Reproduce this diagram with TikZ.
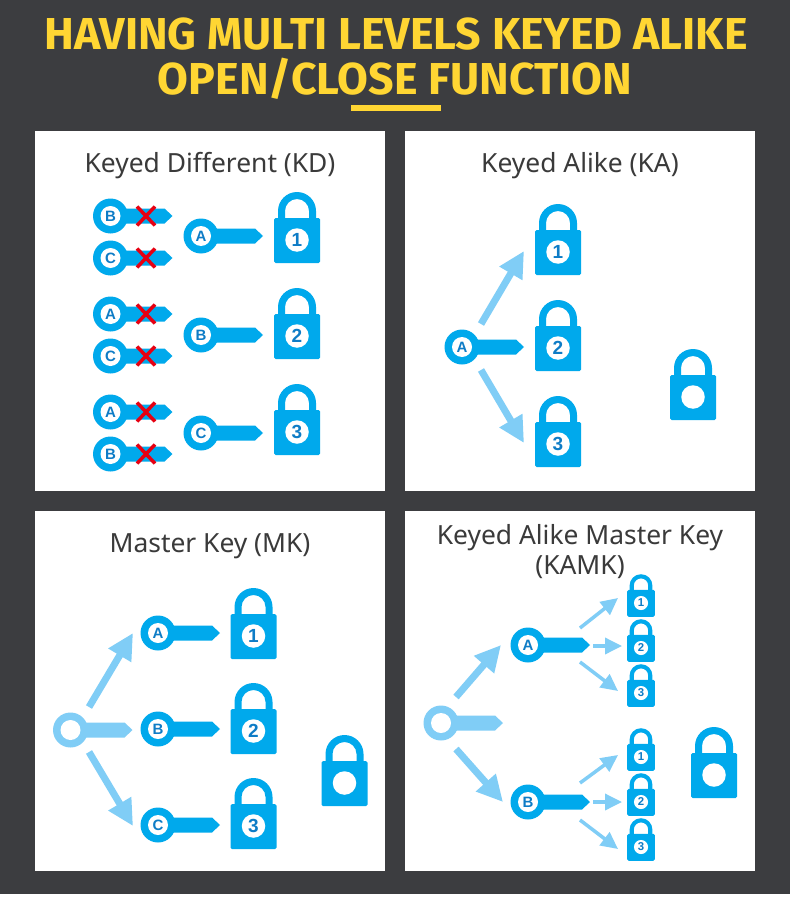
\documentclass[tikz,border=0pt]{standalone}
\usepackage{fontspec}
\setmainfont{Noto Sans}
\newfontfamily\titlefont{Fira Sans}
\newfontfamily\markfont{Liberation Sans}
\usetikzlibrary{arrows.meta}
\definecolor{pagedark}{HTML}{3C3D40}
\definecolor{titleyellow}{HTML}{FFD633}
\definecolor{keyblue}{HTML}{00A9EC}
\definecolor{keylight}{HTML}{80CDF6}
\definecolor{markblue}{HTML}{0E7CC6}
\definecolor{crossred}{HTML}{E60012}
\definecolor{headgray}{HTML}{3A3A3A}
\tikzset{
  panel/.style={fill=white},
  headline/.style={font=\titlefont\bfseries\fontsize{44.7}{54}\selectfont,text=titleyellow,anchor=base},
  paneltitle/.style={font=\fontsize{26.4}{30}\selectfont,text=headgray,anchor=base,align=center},
  holemark/.style={circle,fill=white,inner sep=0pt,minimum size=#1,transform shape,text=markblue},
  bigarrow/.style={keylight,line width=7pt,-{Triangle[length=26pt,width=25pt]}},
  smallarrow/.style={keylight,line width=3.5pt,-{Triangle[length=17pt,width=16pt]}},
  crossout/.style={crossred,line width=3.5pt},
  pics/keyicon/.style 2 args={code={
    \fill[#1] (0,0) circle (17.5);
    \fill[#1] (10,-7.5) -- (54,-7.5) -- (62,0) -- (54,7.5) -- (10,7.5) -- cycle;
    \node[holemark=20,font=\markfont\bfseries\fontsize{15}{15}\selectfont] (-hole) at (0,0) {#2};
  }},
  pics/lockicon/.style={code={
    \fill[keyblue,rounded corners=1.5] (-23,-22) rectangle (23,23);
    \fill[keyblue] (-19,-21) -- (-19,-29) arc (180:360:19) -- (19,-21) -- (12,-21) -- (12,-29) arc (360:180:12) -- (-12,-21) -- cycle;
    \node[holemark=23.5,font=\markfont\bfseries\fontsize{19}{19}\selectfont] (-hole) at (0,0) {#1};
  }},
  pics/crossmark/.style={code={
    \draw[crossout] (-9,-9.5) -- (9,9.5) (-9,9.5) -- (9,-9.5);
  }},
}
\begin{document}
\begin{tikzpicture}[x=1pt,y=-1pt]
\useasboundingbox (0,0) rectangle (790,904);
\fill[pagedark] (0,0) rectangle (790,894);
% title
\node[headline] (line1) at (396,50) {HAVING MULTI LEVELS KEYED ALIKE};
\node[headline] (line2) at (395,95) {OPEN/CLOSE FUNCTION};
\fill[titleyellow] (351,105) rectangle (441,111);
% panels
\fill[panel] (35,131) rectangle (385,491);
\fill[panel] (405,131) rectangle (755,491);
\fill[panel] (35,511) rectangle (385,871);
\fill[panel] (405,511) rectangle (755,871);
\node[paneltitle] (kdtitle) at (210,172) {Keyed Different (KD)};
\node[paneltitle] (katitle) at (580,172) {Keyed Alike (KA)};
\node[paneltitle] (mktitle) at (210,552) {Master Key (MK)};
\node[paneltitle] (kamktitle) at (580,544) {Keyed Alike Master Key};
\node[paneltitle] (kamktitleb) at (580,574) {(KAMK)};
% keyed different
\foreach \ky/\txt/\ly/\num/\aa/\ab/\bb/\ba in {236/A/240/1/216/258/B/C,335/B/336/2/314/356/A/C,433/C/432/3/412/454/A/B}{
  \pic (kdkey\num) at (201,\ky) {keyicon={keyblue}{\txt}};
  \pic (kdlock\num) at (297,\ly) {lockicon=\num};
  \pic (kdx\num) at (110.5,\aa) {keyicon={keyblue}{\bb}};
  \pic (kdy\num) at (110.5,\ab) {keyicon={keyblue}{\ba}};
  \pic (kdcrossx\num) at (146,\aa) {crossmark};
  \pic (kdcrossy\num) at (146,\ab) {crossmark};
}
% keyed alike
\pic (kakey) at (462,347) {keyicon={keyblue}{A}};
\foreach \num/\ly in {1/252,2/348,3/444}
  \pic (kalock\num) at (558,\ly) {lockicon=\num};
\pic (kaplain) at (693,397) {lockicon={}};
\coordinate (kaup) at (481,324);
\coordinate (kauptip) at (524,251);
\coordinate (kadown) at (481,370);
\coordinate (kadowntip) at (524,443);
\draw[bigarrow] (kaup) -- (kauptip);
\draw[bigarrow] (kadown) -- (kadowntip);
% master key
\pic (mkmaster) at (70.5,730) {keyicon={keylight}{}};
\foreach \txt/\ky/\ly/\num in {A/633/636/1,B/729/731/2,C/825/826/3}{
  \pic (mkkey\txt) at (158,\ky) {keyicon={keyblue}{\txt}};
  \pic (mklock\num) at (253.5,\ly) {lockicon=\num};
}
\pic (mkplain) at (344.5,783) {lockicon={}};
\coordinate (mkup) at (89,707);
\coordinate (mkuptip) at (133,633);
\coordinate (mkdown) at (89,752);
\coordinate (mkdowntip) at (133,826);
\draw[bigarrow] (mkup) -- (mkuptip);
\draw[bigarrow] (mkdown) -- (mkdowntip);
% keyed alike master key
\pic (kmmaster) at (441,723) {keyicon={keylight}{}};
\pic (kmkeyA) at (528,645) {keyicon={keyblue}{A}};
\pic (kmkeyB) at (528,802) {keyicon={keyblue}{B}};
\foreach \num/\ly/\txt in {1/603/1,2/648/2,3/693/3,4/757/1,5/802/2,6/847/3}
  \pic[scale=.6] (kmlock\num) at (641,\ly) {lockicon=\txt};
\pic (kmplain) at (714,775) {lockicon={}};
\coordinate (kmup) at (456,697);
\coordinate (kmuptip) at (501,645);
\coordinate (kmdown) at (456,749);
\coordinate (kmdowntip) at (503,802);
\draw[bigarrow] (kmup) -- (kmuptip);
\draw[bigarrow] (kmdown) -- (kmdowntip);
\foreach \ya/\yb/\yc/\yd/\ye/\yf/\nm in {628/598/646/646/662/691/a,783/755/802/802/820/849/b}{
  \coordinate (km\nm1) at (580,\ya);
  \coordinate (km\nm1tip) at (618,\yb);
  \coordinate (km\nm2) at (593,\yc);
  \coordinate (km\nm2tip) at (622,\yd);
  \coordinate (km\nm3) at (580,\ye);
  \coordinate (km\nm3tip) at (618,\yf);
  \draw[smallarrow] (km\nm1) -- (km\nm1tip);
  \draw[smallarrow] (km\nm2) -- (km\nm2tip);
  \draw[smallarrow] (km\nm3) -- (km\nm3tip);
}
\end{tikzpicture}
\end{document}
